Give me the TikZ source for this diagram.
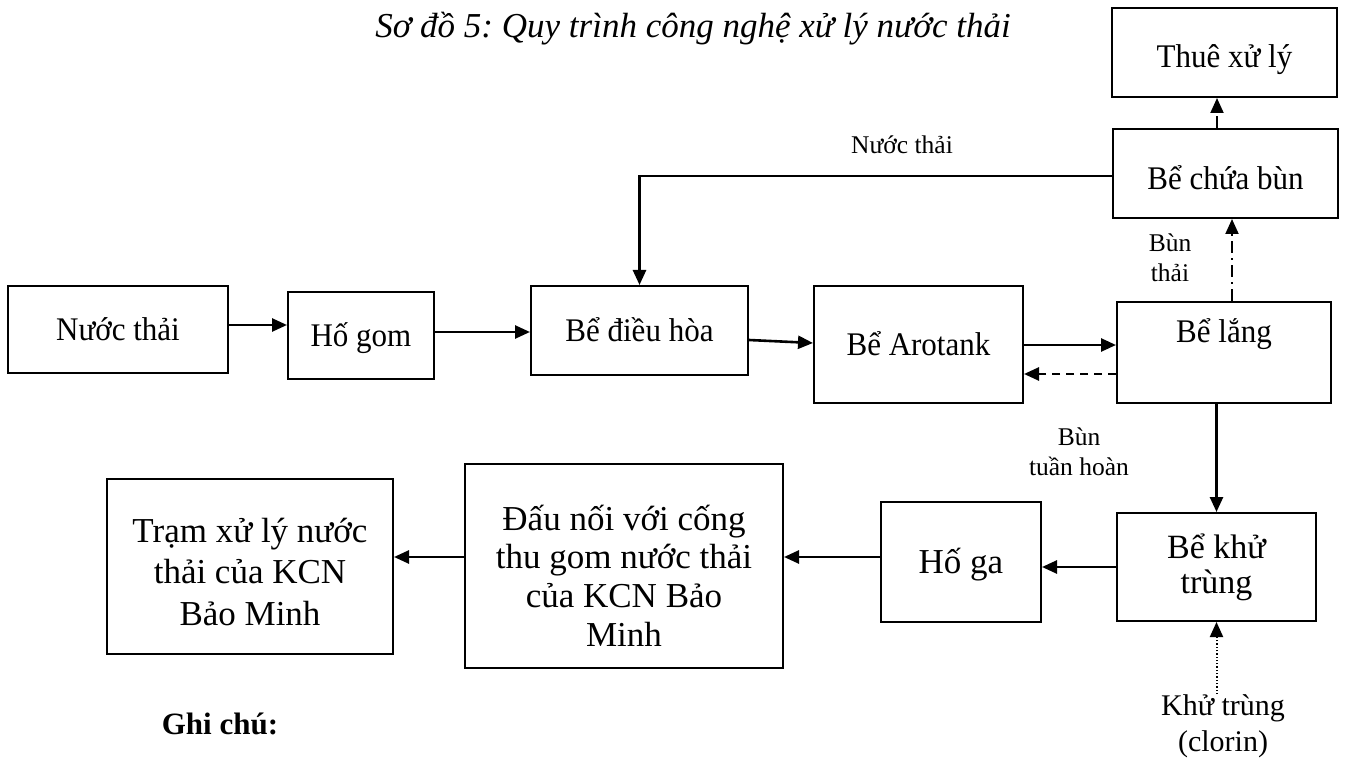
\documentclass[tikz,border=0pt]{standalone}
\usepackage{fontspec}
\setmainfont{Liberation Serif}
\newfontfamily\condfont{Liberation Serif}[FakeStretch=0.94]
\usetikzlibrary{arrows.meta}
\frenchspacing
\begin{document}
\begin{tikzpicture}[x=1pt,y=-1pt,
  box/.style={draw, line width=2pt, inner sep=0pt, align=center},
  fa/.style={font=\condfont\fontsize{33}{38}\selectfont},
  capc/.style={text height=21.8pt, text depth=0pt},
  capd/.style={text height=23pt, text depth=0pt},
  btxt/.style={inner sep=0pt, align=center},
  ar/.style={line width=2.6pt, -{Triangle[length=15pt,width=13pt]}},
  arthin/.style={line width=2pt, -{Triangle[length=15pt,width=13pt]}},
  dashline/.style={dash pattern=on 8pt off 6pt},
  dashdotline/.style={dash pattern=on 12pt off 5pt on 2pt off 5pt},
  dotline/.style={dash pattern=on 1.3pt off 2pt},
  lbl/.style={font=\fontsize{25.5}{30}\selectfont, align=center, inner sep=0pt}]
\useasboundingbox (0,0) rectangle (1345,762);

% title
\node[font=\fontsize{35}{40}\selectfont\itshape, inner sep=0pt, text height=23.2pt, text depth=0pt] (title) at (693,26) {Sơ đồ 5: Quy trình công nghệ xử lý nước thải};

% boxes
\node[box, fa, capc, minimum width=220pt, minimum height=87pt] (nt) at (118,329.5) {Nước thải};
\node[box, fa, capc, minimum width=146pt, minimum height=87pt] (hg) at (361,335.5) {Hố gom};
\node[box, fa, capc, minimum width=217pt, minimum height=89pt] (dh) at (639.5,330.5) {Bể điều hòa};
\node[box, fa, capc, minimum width=209pt, minimum height=117pt] (aro) at (918.5,344.5) {Bể Arotank};
\node[box, fa, text height=21.8pt, text depth=42.8pt, minimum width=214pt, minimum height=101pt] (lang) at (1224,352.5) {Bể lắng};
\node[box, fa, text height=32pt, text depth=0pt, minimum width=225pt, minimum height=89pt] (bun) at (1225.5,173.5) {Bể chứa bùn};
\node[box, fa, text height=31pt, text depth=0pt, minimum width=225pt, minimum height=89pt] (thue) at (1224.5,52.5) {Thuê xử lý};
\node[box, font=\fontsize{34}{35}\selectfont, minimum width=199pt, minimum height=108pt] (kt) at (1216.5,567) {Bể khử\\trùng};
\node[box, font=\fontsize{35}{42}\selectfont, capd, minimum width=160pt, minimum height=120pt] (hga) at (961,562) {Hố ga};
\node[box, minimum width=318pt, minimum height=204pt] (dn) at (624,566) {};
\node[btxt, font=\fontsize{35}{38.7}\selectfont] (dnT) at (624,575.5) {Đấu nối với cống\\thu gom nước thải\\của KCN Bảo\\Minh};
\node[box, minimum width=286pt, minimum height=175pt] (tram) at (250,566.5) {};
\node[btxt, font=\fontsize{35}{41.5}\selectfont] (tramT) at (250,572) {Trạm xử lý nước\\thải của KCN\\Bảo Minh};

% labels
\node[lbl] (lnt) at (902,145) {Nước thải};
\node[lbl] (lbt) at (1170,258) {Bùn\\thải};
\node[lbl] (lbth) at (1079,452) {Bùn\\tuần hoàn};
\node[lbl, font=\fontsize{30}{36}\selectfont] (kc) at (1223,726) {Khử trùng\\(clorin)};
\node[font=\fontsize{31}{37}\selectfont\bfseries, inner sep=0pt] (ghi) at (220,724) {Ghi chú:};

% connectors
\draw[ar] (nt.east |- 0,325) -- (hg.west |- 0,325);
\draw[ar] (hg.east |- 0,332) -- (dh.west |- 0,332);
\draw[ar] (dh.east |- 0,340) -- (aro.west |- 0,343);
\draw[ar] (aro.east |- 0,345) -- (lang.west |- 0,345);
\draw[ar, dashline] (lang.west |- 0,374) -- (aro.east |- 0,374);
\draw[arthin, dashdotline] (lang.north -| 1232,0) -- (bun.south -| 1232,0);
\draw[arthin, dashdotline] (bun.north -| 1217,0) -- (thue.south -| 1217,0);
\draw[ar] (bun.west |- 0,176) -| (dh.north);
\draw[ar] (lang.south -| kt.north) -- (kt.north);
\draw[ar] (kt.west |- 0,567) -- (hga.east |- 0,567);
\draw[ar] (hga.west |- 0,557) -- (dn.east |- 0,557);
\draw[ar] (dn.west |- 0,557) -- (tram.east |- 0,557);
\draw[arthin, dotline] (kc.north -| kt.south) -- (kt.south);
\end{tikzpicture}
\end{document}
